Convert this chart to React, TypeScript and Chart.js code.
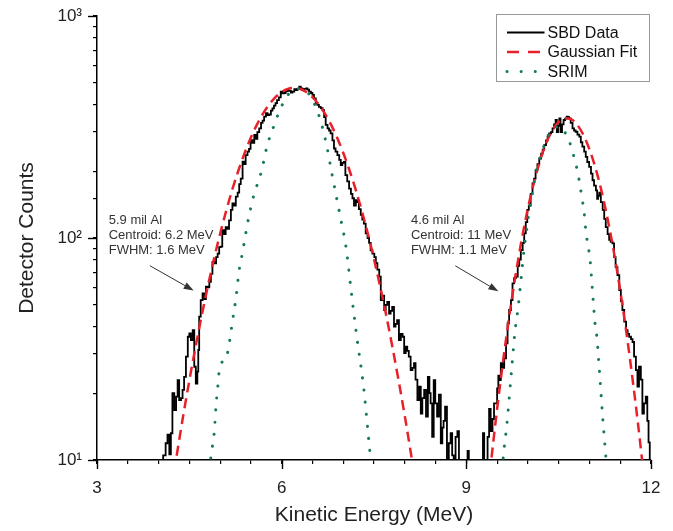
import React, { useEffect, useRef } from 'react';
import { Chart, registerables } from 'chart.js';

Chart.register(...registerables);

const FONT = 'Arial, "Liberation Sans", Helvetica, sans-serif';

// ---------- axes ----------
const xMin = 3;
const xMax = 12;
const yMin = 10;
const yMax = 1000;
const xMajorTicks = [3, 6, 9, 12];
const yMajorTicks = [10, 100, 1000];
const yTickLabels = ['10¹', '10²', '10³'];
const xTitle = 'Kinetic Energy (MeV)';
const yTitle = 'Detector Counts';

// ---------- series ----------
const seriesLabels = ['SBD Data', 'Gaussian Fit', 'SRIM'];

const sbdEnergy = [
  4.05, 4.10, 4.13, 4.16, 4.19, 4.21, 4.24, 4.27, 4.30, 4.32,
  4.35, 4.38, 4.40, 4.43, 4.46, 4.49, 4.51, 4.54, 4.57, 4.59,
  4.62, 4.64, 4.65, 4.67, 4.70, 4.73, 4.76, 4.78, 4.81, 4.84,
  4.86, 4.89, 4.92, 4.95, 4.97, 5.00, 5.02, 5.05, 5.08, 5.10,
  5.13, 5.16, 5.19, 5.21, 5.24, 5.27, 5.30, 5.32, 5.35, 5.38,
  5.40, 5.43, 5.46, 5.48, 5.51, 5.54, 5.57, 5.59, 5.62, 5.65,
  5.68, 5.70, 5.73, 5.76, 5.78, 5.81, 5.84, 5.86, 5.89, 5.91,
  5.94, 5.97, 6.00, 6.03, 6.05, 6.08, 6.11, 6.14, 6.16, 6.19,
  6.22, 6.24, 6.27, 6.30, 6.32, 6.35, 6.38, 6.41, 6.43, 6.46,
  6.49, 6.51, 6.54, 6.57, 6.59, 6.62, 6.65, 6.68, 6.70, 6.73,
  6.76, 6.78, 6.81, 6.84, 6.86, 6.89, 6.92, 6.95, 6.97, 7.00,
  7.02, 7.05, 7.08, 7.11, 7.14, 7.16, 7.19, 7.22, 7.24, 7.27,
  7.30, 7.32, 7.35, 7.38, 7.41, 7.43, 7.46, 7.49, 7.52, 7.54,
  7.57, 7.60, 7.62, 7.65, 7.68, 7.70, 7.73, 7.76, 7.78, 7.81,
  7.84, 7.86, 7.89, 7.92, 7.95, 7.98, 8.00, 8.03, 8.05, 8.08,
  8.11, 8.14, 8.16, 8.19, 8.22, 8.25, 8.27, 8.30, 8.33, 8.36,
  8.39, 8.41, 8.43, 8.46, 8.48, 8.51, 8.54, 8.57, 8.60, 8.62,
  8.64, 8.67, 8.70, 8.73, 8.76, 8.78, 8.81, 8.84, 8.87, 8.89,
  8.92, 8.95, 8.98, 9.01, 9.03, 9.05, 9.08, 9.11, 9.14, 9.17,
  9.20, 9.23, 9.26, 9.28, 9.30, 9.33, 9.36, 9.38, 9.41, 9.44,
  9.46, 9.49, 9.51, 9.53, 9.55, 9.57, 9.60, 9.63, 9.66, 9.68,
  9.71, 9.74, 9.76, 9.79, 9.82, 9.85, 9.87, 9.90, 9.93, 9.95,
  9.98, 10.00, 10.03, 10.06, 10.09, 10.11, 10.14, 10.17, 10.20, 10.23,
  10.25, 10.28, 10.31, 10.33, 10.36, 10.39, 10.41, 10.44, 10.46, 10.48,
  10.50, 10.52, 10.54, 10.57, 10.59, 10.62, 10.64, 10.66, 10.68, 10.71,
  10.74, 10.76, 10.79, 10.82, 10.85, 10.87, 10.90, 10.93, 10.95, 10.98,
  11.01, 11.04, 11.06, 11.09, 11.12, 11.13, 11.15, 11.17, 11.20, 11.23,
  11.25, 11.28, 11.31, 11.33, 11.36, 11.39, 11.41, 11.44, 11.47, 11.50,
  11.52, 11.55, 11.58, 11.61, 11.63, 11.66, 11.69, 11.71, 11.74, 11.77,
  11.79, 11.82, 11.85, 11.87, 11.90, 11.93, 11.95, 11.97, 11.99,
];
const sbdCounts = [
  5, 10.5, 11.9, 13, 10.6, 13.2, 20, 16.8, 19.3, 22.9,
  18.6, 19, 20.7, 23.7, 29.2, 35.9, 37.2, 34.7, 38.5, 26.3,
  22.1, 25, 31.3, 44.2, 52.5, 56.3, 53, 60.3, 60, 63.5,
  69, 78, 76.9, 82, 85, 91, 91.4, 108.6, 104, 112,
  110, 120, 134, 143, 140, 153.5, 160, 175, 185, 221,
  215, 236, 245, 252, 276, 268, 291, 280, 300, 312,
  330, 338, 352, 365, 358, 360, 375, 384, 395, 405,
  418, 430, 456, 448, 450, 458, 464, 460, 452, 456,
  468, 464, 470, 481, 472, 464, 470, 472, 466, 456,
  450, 441, 425, 404, 398, 390, 385, 377, 350, 323,
  312, 305, 296, 275, 253, 245, 236, 225, 213, 218,
  220, 192, 180, 167, 158, 151, 140, 148, 145, 135,
  127, 121, 116, 105, 100, 95, 88, 85, 82, 77,
  72, 67, 52.5, 55, 47.4, 50, 51.6, 45.7, 47, 49,
  39.9, 41, 42.7, 34.7, 37, 35.9, 30.3, 32.4, 31, 29.2,
  25.4, 26, 27.3, 23, 18.6, 21.4, 16.2, 19, 20.7, 15.7,
  23.7, 20, 18, 12.7, 22.9, 18, 15.7, 19.7, 11.9, 14,
  15, 17.4, 8, 11.9, 13.2, 10.5, 7, 12.7, 13.5, 8,
  6, 5, 6, 8, 11, 6, 5, 5, 6, 5,
  5, 6, 8, 13.2, 7, 8, 12.7, 17, 13.5, 15.3,
  18, 18, 21, 24, 22.9, 27.3, 26, 28.7, 33.5, 41.3,
  47.4, 52.5, 62.5, 66, 67, 75, 80, 88.3, 95, 105,
  118, 134, 140, 158, 176, 185, 202, 215, 228, 240,
  250, 262, 275, 285, 296, 300, 312, 325, 340, 300,
  320, 346, 300, 325, 340, 345, 352, 350, 346, 330,
  312, 305, 301, 292, 286, 270, 258, 245, 232, 220,
  209, 195, 182, 172, 164, 150, 155, 160, 145, 134,
  122, 112, 104, 98, 96, 94.6, 82, 74, 68, 58.3,
  52, 47.4, 42, 38.5, 37, 35.9, 35, 34, 29.2, 25.4,
  21.4, 26.3, 23, 16.2, 18, 19.3, 15, 12, 6,
];

const fitEnergyA = [
  4.1, 4.2, 4.3, 4.4, 4.5, 4.6, 4.7, 4.8, 4.9, 5.0,
  5.1, 5.2, 5.3, 5.4, 5.5, 5.6, 5.7, 5.8, 5.9, 6.0,
  6.1, 6.2, 6.3, 6.4, 6.5, 6.6, 6.7, 6.8, 6.9, 7.0,
  7.1, 7.2, 7.3, 7.4, 7.5, 7.6, 7.7, 7.8, 7.9, 8.0,
  8.1, 8.2, 8.3,
];
const fitCountsA = [
  4.6, 7.1, 10.7, 15.8, 22.8, 32.2, 44.6, 60.5, 80.3, 104.5,
  133, 165.9, 202.4, 242, 283.3, 324.8, 364.6, 400.7, 431.3, 454.5,
  469, 474, 469, 454.5, 431.3, 400.7, 364.6, 324.8, 283.3, 242,
  202.4, 165.9, 133, 104.5, 80.3, 60.5, 44.6, 32.2, 22.8, 15.8,
  10.7, 7.1, 4.6,
];
const fitEnergyB = [
  9.3, 9.4, 9.5, 9.6, 9.7, 9.8, 9.9, 10.0, 10.1, 10.2,
  10.3, 10.4, 10.5, 10.6, 10.7, 10.8, 10.9, 11.0, 11.1, 11.2,
  11.3, 11.4, 11.5, 11.6, 11.7, 11.8, 11.9,
];
const fitCountsB = [
  5.3, 9.7, 17.0, 28.3, 44.9, 68.1, 98.5, 135.8, 178.7, 224.2,
  268.3, 306.2, 333.5, 346.3, 343, 324, 292, 251, 206, 161,
  120, 85.5, 58.0, 37.6, 23.2, 13.7, 7.7,
];

const srimEnergyA = [
  4.80, 4.85, 4.906, 4.933, 4.97, 4.99, 5.095, 5.14, 5.20, 5.26,
  5.31, 5.35, 5.38, 5.45, 5.54, 5.67, 5.76, 5.89, 5.97, 6.10,
  6.25, 6.40, 6.50, 6.62, 6.73, 6.81, 6.89, 6.97, 7.04, 7.14,
  7.22, 7.33, 7.41, 7.48,
];
const srimCountsA = [
  7, 10.3, 13.4, 17.4, 22.5, 25.9, 28.7, 32.4, 42, 54.4,
  71.7, 82, 91.4, 118, 153, 199, 258, 329, 377, 440,
  470, 458, 420, 346, 262, 199, 153, 118, 93, 54.4,
  35.9, 21.4, 12.7, 8,
];
const srimEnergyB = [
  9.55, 9.60, 9.665, 9.735, 9.79, 9.84, 9.90, 9.95, 9.98, 10.03,
  10.09, 10.14, 10.20, 10.28, 10.36, 10.45, 10.52, 10.58, 10.64, 10.71,
  10.76, 10.81, 10.85, 10.88, 10.91, 10.93, 10.95, 11.01, 11.06, 11.09,
  11.12, 11.15, 11.18, 11.21, 11.24, 11.26, 11.30,
];
const srimCountsB = [
  7, 10.3, 15.1, 25.4, 37.8, 48.2, 70, 94.7, 108.6, 138,
  170, 202, 232, 267, 301, 315, 318, 305, 286, 254,
  225, 197, 170, 150, 134, 116, 103, 79.5, 52.6, 41.3,
  36, 28, 21.4, 16.2, 12.7, 10.9, 8,
];

// ---------- annotations (data coordinates) ----------
const noteTextA = ['5.9 mil Al', 'Centroid: 6.2 MeV', 'FWHM: 1.6 MeV'];
const noteTextB = ['4.6 mil Al', 'Centroid: 11 MeV', 'FWHM: 1.1 MeV'];
const noteAnchorA = [3.19, 120];
const noteAnchorB = [8.1, 120];
const arrowA = [3.86, 75, 4.57, 58];
const arrowB = [8.82, 75, 9.52, 57.5];

function toPoints(xs: number[], ys: number[]) {
  const n = Math.min(xs.length, ys.length);
  const out: { x: number; y: number | null }[] = [];
  for (let i = 0; i < n; i++) out.push({ x: xs[i], y: ys[i] });
  return out;
}

const majorTickPlugin = {
  id: 'majorTicks',
  afterDraw(chart: any) {
    const { ctx, chartArea } = chart;
    const x = chart.scales.x;
    const y = chart.scales.y;
    ctx.save();
    ctx.strokeStyle = '#000';
    ctx.lineWidth = 1.4;
    xMajorTicks.forEach((v) => {
      const px = Math.round(x.getPixelForValue(v)) + 0.5;
      ctx.beginPath();
      ctx.moveTo(px, chartArea.bottom);
      ctx.lineTo(px, chartArea.bottom + 9);
      ctx.stroke();
    });
    yMajorTicks.forEach((v) => {
      const py = Math.round(y.getPixelForValue(v)) + 0.5;
      ctx.beginPath();
      ctx.moveTo(chartArea.left - 9, py);
      ctx.lineTo(chartArea.left, py);
      ctx.stroke();
    });
    ctx.restore();
  },
};

function drawNote(chart: any, lines: string[], anchor: number[], arrow: number[]) {
  const { ctx } = chart;
  const x = chart.scales.x;
  const y = chart.scales.y;
  const tx = x.getPixelForValue(anchor[0]);
  const ty = y.getPixelForValue(anchor[1]);
  ctx.save();
  ctx.fillStyle = '#333';
  ctx.font = `13px ${FONT}`;
  ctx.textAlign = 'left';
  ctx.textBaseline = 'middle';
  lines.forEach((t, i) => ctx.fillText(t, tx, ty + i * 15));
  const x0 = x.getPixelForValue(arrow[0]);
  const y0 = y.getPixelForValue(arrow[1]);
  const x1 = x.getPixelForValue(arrow[2]);
  const y1 = y.getPixelForValue(arrow[3]);
  const ang = Math.atan2(y1 - y0, x1 - x0);
  const hl = 10;
  const hw = 3.5;
  ctx.strokeStyle = '#333';
  ctx.lineWidth = 1;
  ctx.beginPath();
  ctx.moveTo(x0, y0);
  ctx.lineTo(x1 - hl * Math.cos(ang), y1 - hl * Math.sin(ang));
  ctx.stroke();
  ctx.beginPath();
  ctx.moveTo(x1, y1);
  ctx.lineTo(x1 - hl * Math.cos(ang) + hw * Math.sin(ang), y1 - hl * Math.sin(ang) - hw * Math.cos(ang));
  ctx.lineTo(x1 - hl * Math.cos(ang) - hw * Math.sin(ang), y1 - hl * Math.sin(ang) + hw * Math.cos(ang));
  ctx.closePath();
  ctx.fill();
  ctx.restore();
}

const notesPlugin = {
  id: 'notes',
  afterDatasetsDraw(chart: any) {
    drawNote(chart, noteTextA, noteAnchorA, arrowA);
    drawNote(chart, noteTextB, noteAnchorB, arrowB);
  },
};

const legendPlugin = {
  id: 'boxLegend',
  afterDraw(chart: any) {
    const { ctx, chartArea } = chart;
    const bx = chartArea.right - 154.5;
    const by = chartArea.top - 1.5;
    const bw = 153;
    const bh = 67;
    ctx.save();
    ctx.fillStyle = '#fff';
    ctx.fillRect(bx, by, bw, bh);
    ctx.strokeStyle = '#999';
    ctx.lineWidth = 1;
    ctx.strokeRect(bx, by, bw, bh);
    const samples = [
      { dash: [], width: 2, cap: 'butt' },
      { dash: [12, 9], width: 2.5, cap: 'butt' },
      { dash: [0.1, 14], width: 3, cap: 'round' },
    ];
    chart.data.datasets.forEach((ds: any, i: number) => {
      const rowY = by + 18 + i * 19.5;
      const s = samples[i];
      ctx.strokeStyle = ds.borderColor;
      ctx.lineWidth = s.width;
      ctx.lineCap = s.cap;
      ctx.setLineDash(s.dash);
      ctx.beginPath();
      ctx.moveTo(bx + 10.5, rowY);
      ctx.lineTo(bx + 48, rowY);
      ctx.stroke();
      ctx.setLineDash([]);
      ctx.fillStyle = '#111';
      ctx.font = `16px ${FONT}`;
      ctx.textAlign = 'left';
      ctx.textBaseline = 'middle';
      ctx.fillText(ds.label, bx + 51, rowY + 1);
    });
    ctx.restore();
  },
};

export default function App() {
  const canvasRef = useRef<HTMLCanvasElement | null>(null);

  useEffect(() => {
    document.body.style.margin = '0';
    const canvas = canvasRef.current;
    if (!canvas) return;

    const fitData = [
      ...toPoints(fitEnergyA, fitCountsA),
      { x: 8.8, y: null },
      ...toPoints(fitEnergyB, fitCountsB),
    ];
    const srimData = [
      ...toPoints(srimEnergyA, srimCountsA),
      { x: 8.8, y: null },
      ...toPoints(srimEnergyB, srimCountsB),
    ];

    const chart = new Chart(canvas, {
      type: 'line',
      data: {
        datasets: [
          {
            label: seriesLabels[0],
            data: toPoints(sbdEnergy, sbdCounts),
            borderColor: '#000000',
            borderWidth: 1.8,
            pointRadius: 0,
            stepped: 'middle',
            order: 2,
          },
          {
            label: seriesLabels[1],
            data: fitData,
            borderColor: '#e8202a',
            borderWidth: 2.5,
            borderDash: [10, 6],
            pointRadius: 0,
            cubicInterpolationMode: 'monotone',
            spanGaps: false,
            order: 1,
          },
          {
            label: seriesLabels[2],
            data: srimData,
            borderColor: '#16795a',
            borderWidth: 3,
            borderDash: [0.1, 12],
            borderCapStyle: 'round',
            pointRadius: 0,
            cubicInterpolationMode: 'monotone',
            spanGaps: false,
            order: 0,
          },
        ],
      },
      options: {
        animation: false,
        responsive: false,
        maintainAspectRatio: false,
        parsing: false,
        normalized: true,
        layout: { padding: { top: 16, right: 22, left: 0, bottom: 0 } },
        plugins: {
          legend: { display: false },
          tooltip: { enabled: false },
        },
        scales: {
          x: {
            type: 'linear',
            min: xMin,
            max: xMax,
            ticks: {
              stepSize: 0.5,
              autoSkip: false,
              maxRotation: 0,
              padding: 14,
              color: '#222',
              font: { family: FONT, size: 17 },
              callback: (v: any) => (xMajorTicks.includes(Number(v)) ? String(v) : ''),
            },
            grid: {
              drawOnChartArea: false,
              drawTicks: true,
              tickLength: 4,
              color: '#000',
              lineWidth: 1.2,
            },
            border: { display: true, color: '#000', width: 1.5 },
            title: {
              display: true,
              text: xTitle,
              color: '#222',
              font: { family: FONT, size: 21 },
              padding: { top: 0, bottom: 3 },
            },
            afterFit: (s: any) => {
              s.height = 71;
              s.paddingLeft = 0;
              s.paddingRight = 0;
            },
          },
          y: {
            type: 'logarithmic',
            min: yMin,
            max: yMax,
            ticks: {
              autoSkip: false,
              padding: 11,
              color: '#222',
              font: { family: FONT, size: 17 },
              callback: (v: any) => {
                const i = yMajorTicks.indexOf(Number(v));
                return i >= 0 ? yTickLabels[i] : '';
              },
            },
            grid: {
              drawOnChartArea: false,
              drawTicks: true,
              tickLength: 4,
              color: '#000',
              lineWidth: 1.2,
            },
            border: { display: true, color: '#000', width: 1.5 },
            title: {
              display: true,
              text: yTitle,
              color: '#222',
              font: { family: FONT, size: 21 },
              padding: { top: 15, bottom: 0 },
            },
            afterFit: (s: any) => {
              s.width = 97;
              s.paddingTop = 0;
              s.paddingBottom = 0;
            },
          },
        },
      } as any,
      plugins: [majorTickPlugin, notesPlugin, legendPlugin],
    });

    return () => chart.destroy();
  }, []);

  return (
    <div style={{ width: 673, height: 531, background: '#fff' }}>
      <canvas ref={canvasRef} width={673} height={531} style={{ width: 673, height: 531, display: 'block' }} />
    </div>
  );
}
